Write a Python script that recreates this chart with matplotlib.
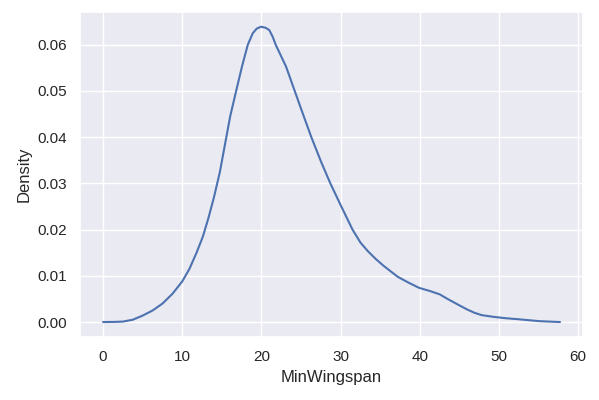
import numpy as np
import matplotlib
matplotlib.use('Agg')
import matplotlib.pyplot as plt
import seaborn as sns

# KDE curve (MinWingspan vs density)
wingspan = [0.0, 1.5, 2.5, 3.75, 5.0, 6.25, 7.5, 8.75, 10.0, 10.9, 11.8, 12.6,
            13.3, 14.0, 14.75, 15.56, 16.06, 16.8, 17.54, 18.27, 18.9, 19.4,
            19.94, 20.5, 20.98, 21.4, 21.8, 23.1, 24.2, 25.2, 26.3, 27.5, 28.7,
            30.0, 31.5, 32.5, 33.4, 34.4, 35.4, 37.2, 38.6, 39.9, 41.3, 42.5,
            43.5, 45.0, 46.0, 46.9, 47.8, 49.4, 51.0, 52.5, 55.0, 57.7]
density = [0.0, 0.00003, 0.0001, 0.0005, 0.0014, 0.0025, 0.0040, 0.0061, 0.0088,
           0.0115, 0.0150, 0.0185, 0.0225, 0.0270, 0.0325, 0.0400, 0.0446, 0.0500,
           0.0553, 0.0600, 0.0625, 0.0635, 0.0639, 0.0637, 0.0632, 0.0618, 0.0600,
           0.0553, 0.0500, 0.0452, 0.0400, 0.0348, 0.0300, 0.0253, 0.0200, 0.0172,
           0.0154, 0.0137, 0.0122, 0.0098, 0.0085, 0.0074, 0.0067, 0.0060, 0.0050,
           0.0036, 0.0027, 0.0020, 0.0015, 0.0011, 0.0008, 0.0006, 0.0002, 0.0]

sns.set_theme(style='darkgrid')
plt.rcParams['font.family'] = ['Liberation Sans', 'DejaVu Sans']

fig = plt.figure(figsize=(5.99, 4.0), dpi=100)
ax = fig.add_axes([0.134, 0.158, 0.839, 0.812])
ax.plot(wingspan, density, color='#4C72B0', lw=1.5)
ax.set_xlabel('MinWingspan')
ax.set_ylabel('Density')
ax.set_xticks([0, 10, 20, 30, 40, 50, 60])

fig.savefig('out.png', dpi=100)
